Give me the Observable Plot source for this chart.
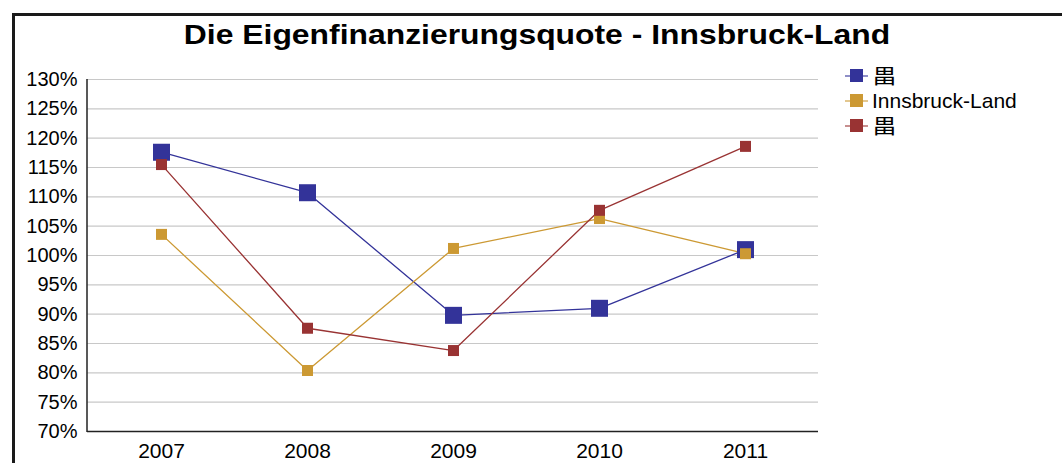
<!DOCTYPE html>
<html>
<head>
<meta charset="utf-8">
<script src="https://cdn.jsdelivr.net/npm/d3@7"></script>
<script src="https://cdn.jsdelivr.net/npm/@observablehq/plot@0.6"></script>
<style>
  body { margin: 0; background: #fff; font-family: "Liberation Sans", Arial, sans-serif; }
  #wrap { position: relative; width: 1062px; height: 463px; overflow: hidden; }
  #frame { position: absolute; left: 12px; top: 13px; width: 1100px; height: 500px; border: 3px solid #1a1a1a; box-sizing: border-box; }
  #title { position: absolute; left: 0; width: 1074px; top: 20px; text-align: center; font-weight: bold; font-size: 27px; line-height: 30px; color: #000; transform: scaleX(1.18); transform-origin: 537px 0; }
  #chart { position: absolute; left: 0; top: 0; }
  #legend { position: absolute; left: 845px; top: 63px; font-size: 21px; }
  .item { display: flex; align-items: center; height: 25px; }
  .sw { position: relative; width: 23px; height: 13px; margin-right: 4px; }
  .sw .ln { position: absolute; left: 0; right: 0; top: 6px; height: 1.5px; }
  .sw .sq { position: absolute; left: 5px; top: 0; width: 13px; height: 13px; }
  .cjk { font-family: "Noto Sans CJK SC", sans-serif; font-size: 20px; display: inline-block; transform: scaleX(1.25); transform-origin: 0 50%; }
</style>
</head>
<body>
<div id="wrap">
  <div id="frame"></div>
  <div id="title">Die Eigenfinanzierungsquote - Innsbruck-Land</div>
  <div id="chart"></div>
  <div id="legend"></div>
</div>
<script>
const years = ["2007", "2008", "2009", "2010", "2011"];
const seriesNames = ["畕", "Innsbruck-Land", "畕"];
const seriesColors = ["#333399", "#cc9933", "#993333"];
const seriesSizes = [17, 11, 11];
const blueValues = [117.6, 110.7, 89.8, 91.0, 101.0];
const yellowValues = [103.6, 80.4, 101.2, 106.3, 100.3];
const redValues = [115.5, 87.6, 83.8, 107.7, 118.6];
const yTicks = [70, 75, 80, 85, 90, 95, 100, 105, 110, 115, 120, 125, 130];

const allValues = [blueValues, yellowValues, redValues];
const data = [];
allValues.forEach((vals, si) => {
  vals.forEach((v, i) => data.push({ year: years[i], value: v, s: si }));
});

const lineMarks = [0, 1, 2].map(si =>
  Plot.line(data.filter(d => d.s === si), { x: "year", y: "value", stroke: seriesColors[si], strokeWidth: 1.3 })
);
const dotMarks = [0, 1, 2].map(si =>
  Plot.dot(data.filter(d => d.s === si), { x: "year", y: "value", symbol: "square", r: seriesSizes[si] / Math.sqrt(Math.PI), fill: seriesColors[si], stroke: "none" })
);

const plot = Plot.plot({
  width: 1062,
  height: 463,
  marginLeft: 87,
  marginRight: 244,
  marginTop: 79,
  marginBottom: 32,
  style: { fontFamily: "'Liberation Sans', Arial, sans-serif", fontSize: "20px", background: "transparent", color: "#000" },
  x: { type: "point", domain: years, padding: 0.5, label: null },
  y: { domain: [70, 130], label: null },
  marks: [
    Plot.gridY(yTicks, { stroke: "#c8c8c8", strokeOpacity: 1, strokeWidth: 1.2 }),
    Plot.axisY(yTicks, { tickFormat: d => d + "%", tickSize: 0, tickPadding: 10, fontSize: 20, label: null }),
    Plot.axisX({ tickSize: 0, tickPadding: 12, fontSize: 21, label: null }),
    Plot.ruleY([70], { stroke: "#222", strokeWidth: 1.5 }),
    ...lineMarks,
    ...dotMarks
  ]
});
document.getElementById("chart").appendChild(plot);

// left axis line
const svg = d3.select(plot);
svg.append("line").attr("x1", 87).attr("x2", 87).attr("y1", 79).attr("y2", 432)
  .attr("stroke", "#222").attr("stroke-width", 1.5);

const legend = document.getElementById("legend");
seriesNames.forEach((name, i) => {
  const item = document.createElement("div");
  item.className = "item";
  const label = /[\u4e00-\u9fff]/.test(name) ? `<span class="cjk">${name}</span>` : `<span>${name}</span>`;
  item.innerHTML = `<div class="sw"><div class="ln" style="background:${seriesColors[i]};opacity:0.55"></div><div class="sq" style="background:${seriesColors[i]}"></div></div>${label}`;
  legend.appendChild(item);
});
</script>
</body>
</html>
